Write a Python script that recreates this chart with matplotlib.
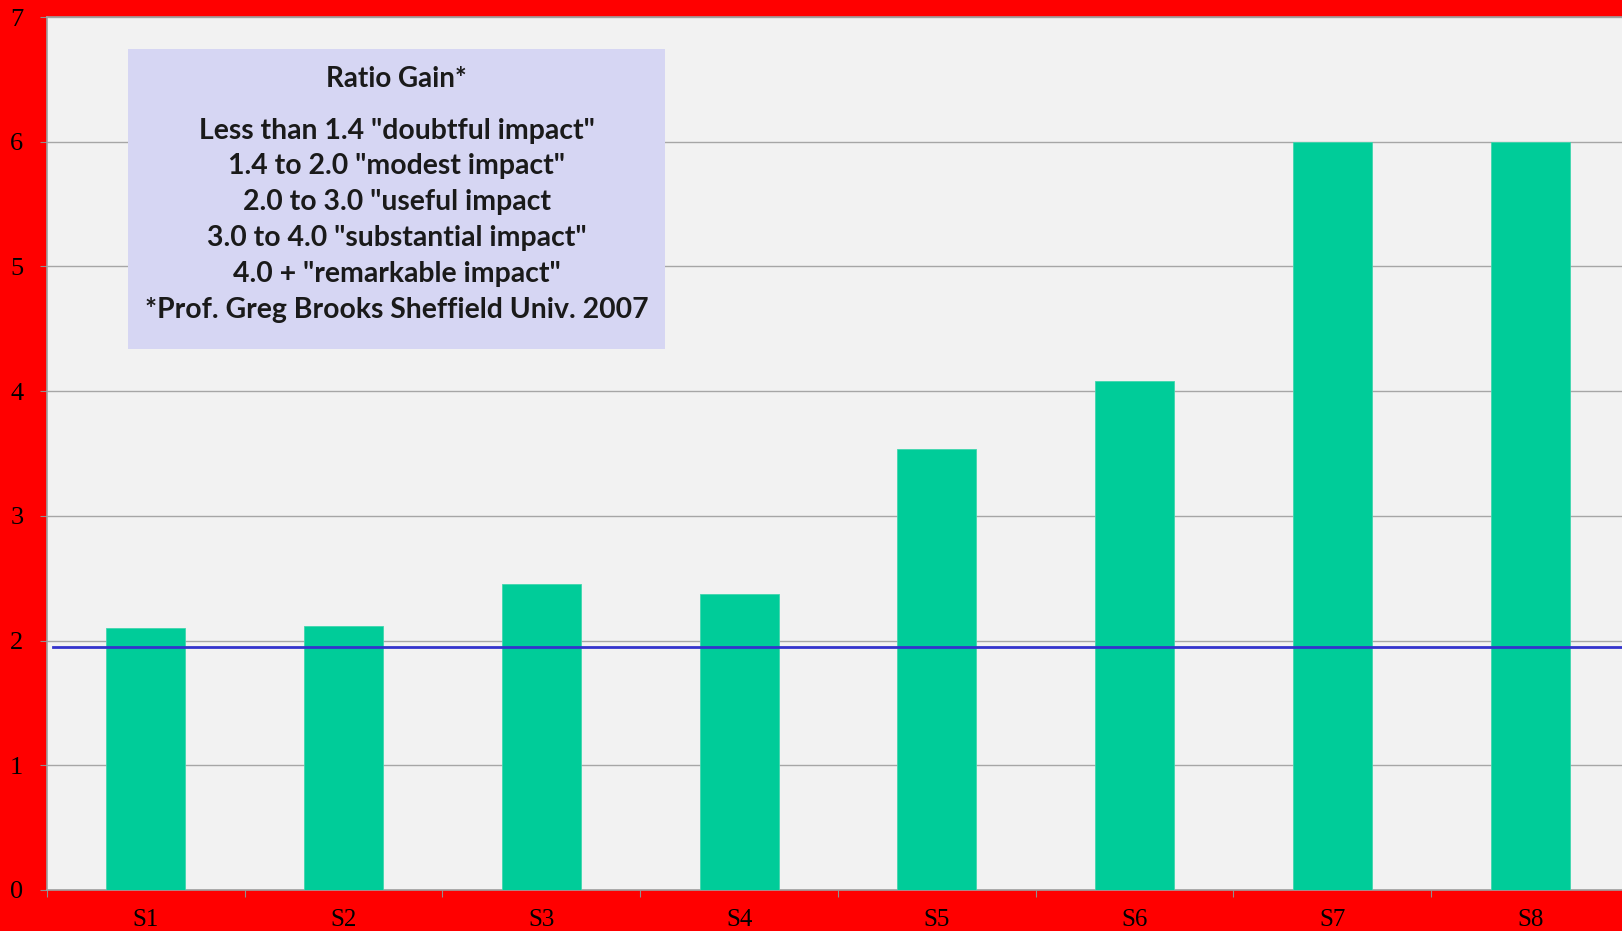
import matplotlib.pyplot as plt
import numpy as np

# Ratio gain per school
schools = ['S1', 'S2', 'S3', 'S4', 'S5', 'S6', 'S7', 'S8']
ratio_gain = [2.10, 2.12, 2.45, 2.37, 3.54, 4.08, 6.0, 6.0]
reference_level = 1.95

key_lines = [
    'Less than 1.4 "doubtful impact"',
    '1.4 to 2.0 "modest impact"',
    '2.0 to 3.0 "useful impact',
    '3.0 to 4.0 "substantial impact"',
    '4.0 + "remarkable impact"',
    '*Prof. Greg Brooks Sheffield Univ. 2007',
]

fig = plt.figure(figsize=(16.22, 9.31), dpi=100, facecolor='#FF0000')
ax = fig.add_axes([47 / 1622, 41 / 931, 1582 / 1622, 873 / 931])
ax.set_facecolor('#F2F2F2')

x = np.arange(len(schools))
ax.bar(x, ratio_gain, width=0.4, color='#00CC99', edgecolor='#40D6AE', linewidth=0.6, zorder=3)
ax.plot([-0.47, 8.0], [reference_level, reference_level], color='#3333CC', lw=2.0, zorder=4)

ax.set_xlim(-0.5, len(schools) - 0.5)
ax.set_ylim(0, 7)
ax.set_yticks(range(8))
ax.yaxis.grid(True, color='#A6A6A6', lw=1.0, zorder=0)

# ticks between categories, labels at category centres
ax.set_xticks(np.arange(len(schools) + 1) - 0.5)
ax.set_xticklabels([])
ax.set_xticks(x, minor=True)
ax.set_xticklabels(schools, minor=True, fontfamily='Liberation Serif', fontsize=18)
ax.tick_params(axis='x', which='major', length=5, color='#909090', direction='out')
ax.tick_params(axis='x', which='minor', length=0, pad=14)
ax.tick_params(axis='y', length=5, color='#909090', pad=12)
for lab in ax.get_yticklabels():
    lab.set_fontfamily('Liberation Serif')
    lab.set_fontsize(19)

for side in ['left', 'bottom', 'top']:
    ax.spines[side].set_color('#A0A0A0')
    ax.spines[side].set_linewidth(1.2)
ax.spines['right'].set_visible(False)

# key box
box_x0, box_x1 = -0.09, 2.626
box_y0, box_y1 = 4.34, 6.74
ax.add_patch(plt.Rectangle((box_x0, box_y0), box_x1 - box_x0, box_y1 - box_y0,
                           facecolor='#D6D6F3', edgecolor='none', zorder=5))
cx = (box_x0 + box_x1) / 2
ax.text(cx, 6.50, 'Ratio Gain*', ha='center', va='center', fontsize=20,
        fontweight='bold', fontfamily='Lato', color='#1A1A1A', zorder=6)
ax.text(cx, 5.37, '\n'.join(key_lines), ha='center', va='center', fontsize=20.4,
        fontweight='bold', fontfamily='Lato', color='#1A1A1A', linespacing=1.47, zorder=6)

fig.savefig('out.png', dpi=100, facecolor=fig.get_facecolor())
